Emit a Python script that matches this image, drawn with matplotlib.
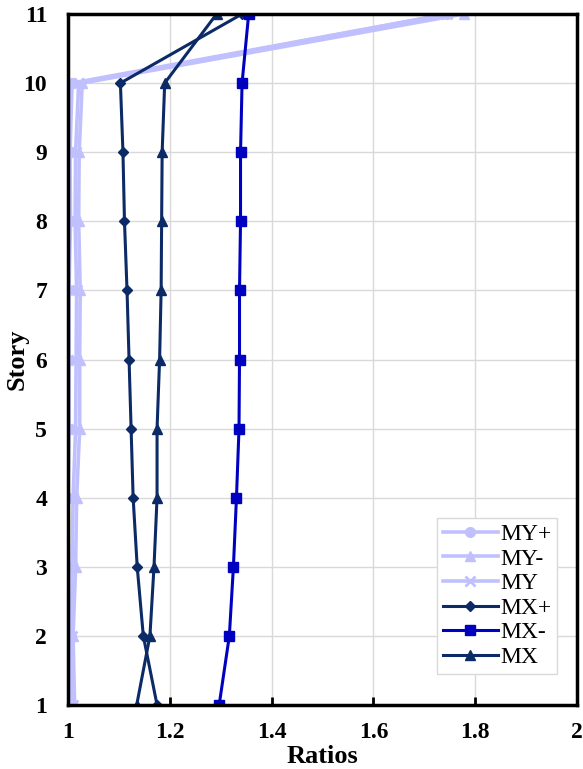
import matplotlib.pyplot as plt

stories = [1, 2, 3, 4, 5, 6, 7, 8, 9, 10, 11]

my_plus = [1.005, 1.005, 1.0, 1.0, 1.002, 1.002, 1.002, 1.005, 1.004, 1.008, 1.745]
my_minus = [1.013, 1.01, 1.015, 1.017, 1.023, 1.023, 1.024, 1.021, 1.022, 1.028, 1.778]
my_all = [1.009, 1.008, 1.008, 1.01, 1.015, 1.016, 1.017, 1.014, 1.015, 1.021, 1.745]
mx_plus = [1.175, 1.148, 1.136, 1.128, 1.124, 1.12, 1.116, 1.111, 1.108, 1.103, 1.342]
mx_minus = [1.297, 1.317, 1.325, 1.331, 1.336, 1.337, 1.337, 1.339, 1.339, 1.342, 1.355]
mx_all = [1.135, 1.161, 1.169, 1.175, 1.175, 1.18, 1.183, 1.184, 1.185, 1.19, 1.292]

light = '#c0c0ff'
navy = '#0b2a66'
blue = '#0000c0'

plt.rcParams['font.family'] = ['Liberation Serif', 'DejaVu Serif']

fig = plt.figure(figsize=(5.83, 7.69), dpi=100)
ax = fig.add_axes([0.1166, 0.0832, 0.8731, 0.8986])

ax.plot(my_plus, stories, color=light, lw=2.6, marker='o', ms=7, label='MY+')
ax.plot(my_minus, stories, color=light, lw=2.6, marker='^', ms=7, label='MY-')
ax.plot(my_all, stories, color=light, lw=2.6, marker='x', ms=7, mew=2, label='MY')
ax.plot(mx_plus, stories, color=navy, lw=2.2, marker='D', ms=5, label='MX+')
ax.plot(mx_minus, stories, color=blue, lw=2.2, marker='s', ms=7, label='MX-')
ax.plot(mx_all, stories, color=navy, lw=2.2, marker='^', ms=7, label='MX')

ax.set_xlim(1, 2)
ax.set_ylim(1, 11)
ax.set_xticks([1, 1.2, 1.4, 1.6, 1.8, 2])
ax.set_xticklabels(['1', '1.2', '1.4', '1.6', '1.8', '2'])
ax.set_yticks(stories)
ax.grid(True, color='#d9d9d9', lw=1)
ax.set_axisbelow(True)
for s in ax.spines.values():
    s.set_linewidth(2.5)
ax.tick_params(axis='x', direction='in', length=6, width=2, labelsize=17, pad=12)
ax.tick_params(axis='y', length=0, labelsize=17, pad=15)
for lbl in ax.get_xticklabels() + ax.get_yticklabels():
    lbl.set_fontweight('bold')

ax.set_xlabel('Ratios', fontsize=19, fontweight='bold')
ax.xaxis.set_label_coords(0.5, -0.058)
ax.set_ylabel('Story', fontsize=19, fontweight='bold')
ax.yaxis.set_label_coords(-0.078, 0.5)

ax.legend(loc='lower right', bbox_to_anchor=(0.961, 0.045), borderaxespad=0,
          fontsize=17, frameon=True, fancybox=False, edgecolor='#d9d9d9',
          framealpha=1, handlelength=2.3, handletextpad=0.1, labelspacing=0.13,
          borderpad=0.25)

fig.savefig('out.png', dpi=100)
